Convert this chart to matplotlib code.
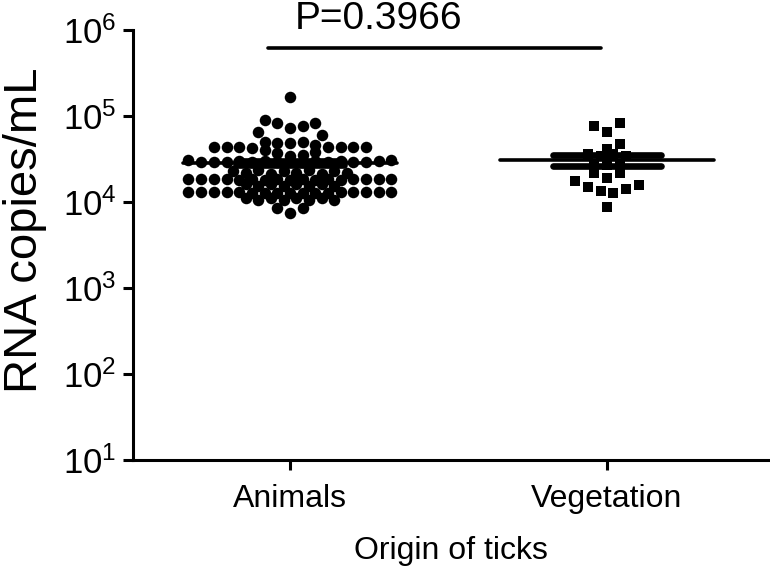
import numpy as np
import matplotlib
matplotlib.use("Agg")
import matplotlib.pyplot as plt
from matplotlib.ticker import FuncFormatter, NullLocator

plt.rcParams['font.family'] = ['Liberation Sans', 'DejaVu Sans']
plt.rcParams['mathtext.default'] = 'regular'

groups = ['Animals', 'Vegetation']

# dot rows as they sit in the swarm, top to bottom, left to right (None = empty slot)
animals_rows = [
    [1.67e5],
    [8.97e4, 8.2e4, 7.2e4, 7.7e4, 8.35e4],
    [6.46e4, None, None, None, None, 6.0e4],
    [4.4e4, 4.4e4, 4.4e4, 4.3e4, 5.0e4, 4.9e4, 4.9e4, 5.0e4, 4.6e4, 4.4e4, 4.4e4, 4.4e4, 4.4e4],
    [4.0e4, 3.75e4, 3.45e4, 3.5e4, 3.85e4],
    [3.1e4, 2.95e4, 2.95e4, 2.95e4, 3.0e4, 2.9e4, 3.0e4, 2.95e4, 3.0e4, 2.95e4, 3.0e4, 2.9e4,
     3.0e4, 2.95e4, 2.95e4, 3.0e4, 3.1e4],
    [2.3e4, 2.15e4, 2.35e4, 2.1e4, 2.3e4, 2.15e4, 2.35e4, 2.1e4, 2.3e4, 2.2e4],
    [1.85e4, 1.85e4, 1.85e4, 1.85e4, 1.8e4, 1.85e4, 1.8e4, 1.85e4, 1.8e4, 1.85e4, 1.8e4, 1.85e4,
     1.8e4, 1.85e4, 1.85e4, 1.85e4, 1.85e4],
    [1.6e4, 1.55e4, 1.6e4, 1.55e4, 1.6e4, 1.55e4, 1.6e4, 1.55e4],
    [1.32e4, 1.32e4, 1.32e4, 1.32e4, 1.32e4, 1.28e4, 1.28e4, 1.28e4, 1.28e4, 1.28e4, 1.28e4, 1.28e4,
     1.32e4, 1.32e4, 1.32e4, 1.32e4, 1.32e4],
    [1.12e4, 1.05e4, 1.12e4, 1.05e4, 1.12e4, 1.05e4, 1.12e4, 1.05e4],
    [8.6e3, 7.5e3, 8.6e3],
]

vegetation_rows = [
    [7.65e4, 6.5e4, 8.3e4],
    [None, None, 4.7e4],
    [4.1e4],
    [3.6e4, 3.4e4, 3.6e4, 3.4e4],
    [2.8e4, 2.7e4, 2.8e4],
    [2.2e4, 1.9e4, 2.17e4],
    [1.75e4, 1.5e4, 1.34e4, 1.27e4, 1.41e4, 1.58e4],
    [8.7e3],
]

means = [2.84e4, 3.07e4]
sem_low = [2.68e4, 2.6e4]
sem_high = [3.0e4, 3.52e4]

p_text = 'P=0.3966'
p_level = 6.2e5


def row_points(rows, center, step):
    xs, ys = [], []
    for row in rows:
        n = len(row)
        for i, v in enumerate(row):
            if v is None:
                continue
            xs.append(center + (i - (n - 1) / 2) * step)
            ys.append(v)
    return xs, ys


fig = plt.figure(figsize=(7.7, 5.69), dpi=100)
ax = fig.add_axes([0.1727, 0.1916, 0.8247, 0.7557])

step = 0.040
an_x, an_y = row_points(animals_rows, 0, step)
ve_x, ve_y = row_points(vegetation_rows, 1, step)
ax.plot(an_x, an_y, 'o', color='black', markersize=8.3, markeredgewidth=0, zorder=2)
ax.plot(ve_x, ve_y, 's', color='black', markersize=6.8, markeredgewidth=0, zorder=2)

for i in range(len(groups)):
    ax.plot([i - 0.337, i + 0.337], [means[i], means[i]], color='black', lw=2.6,
            solid_capstyle='round', zorder=3)
    ax.plot([i, i], [sem_low[i], sem_high[i]], color='black', lw=2.6, zorder=3)
    for v in (sem_low[i], sem_high[i]):
        ax.plot([i - 0.17, i + 0.17], [v, v], color='black', lw=4.8,
                solid_capstyle='round', zorder=3)

# significance bar
ax.plot([-0.07, 0.98], [p_level, p_level], color='black', lw=2.6,
        solid_capstyle='round', clip_on=False)
ax.text(0.28, 1.35e6, p_text, ha='center', va='center', fontsize=28, clip_on=False)

ax.set_yscale('log')
ax.set_ylim(10, 1e6)
ax.set_xlim(-0.495, 1.508)
ax.set_yticks([1e1, 1e2, 1e3, 1e4, 1e5, 1e6])
ax.yaxis.set_major_formatter(FuncFormatter(lambda v, _: r'$10^{%d}$' % round(np.log10(v))))
ax.yaxis.set_minor_locator(NullLocator())
ax.set_xticks([0, 1])
ax.set_xticklabels(groups)

ax.spines['top'].set_visible(False)
ax.spines['right'].set_visible(False)
for s in ('left', 'bottom'):
    ax.spines[s].set_linewidth(2.2)
ax.tick_params(axis='both', length=7, width=2.2)
ax.tick_params(axis='y', labelsize=25, pad=5)
ax.tick_params(axis='x', labelsize=23, pad=10)

ax.set_xlabel('Origin of ticks', fontsize=23, labelpad=16)
ax.set_ylabel('RNA copies/mL', fontsize=34)
ax.yaxis.set_label_coords(-0.135, 0.535)

fig.savefig('out.png', dpi=100)
